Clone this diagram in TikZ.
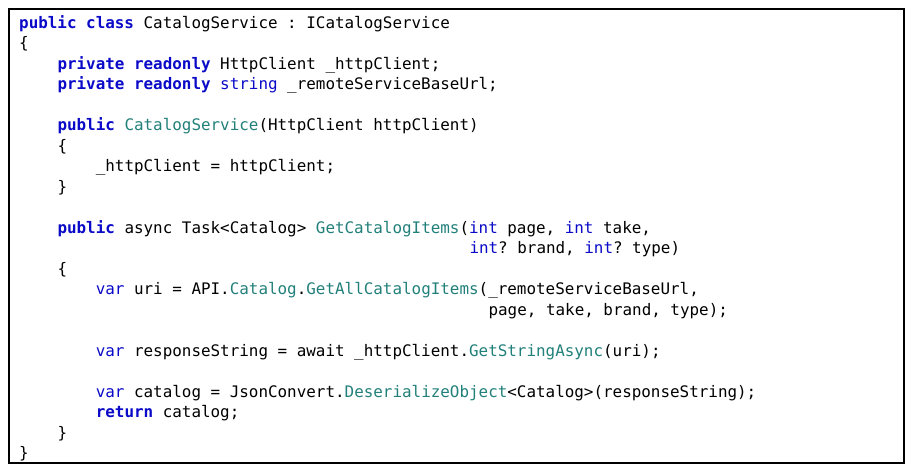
\documentclass[tikz,border=0pt]{standalone}
\usepackage{fontspec}
\usepackage{xcolor}
\usepackage{tikz}
\usetikzlibrary{positioning,calc}
\newfontfamily\codefont{DejaVu Sans Mono}
\definecolor{kwblue}{RGB}{10,10,200}
\definecolor{fnteal}{RGB}{33,128,122}
\newcommand{\kw}[1]{\textcolor{kwblue}{\bfseries #1}}
\newcommand{\ty}[1]{\textcolor{kwblue}{#1}}
\newcommand{\fn}[1]{\textcolor{fnteal}{#1}}
\tikzset{codeline/.style={anchor=base west, inner sep=0pt, font=\codefont\fontsize{15.9}{20.5}\selectfont}}

\begin{document}
\frenchspacing
\begin{tikzpicture}[x=1pt, y=-1pt]
    \useasboundingbox (0,0) rectangle (916,474);
    % Frame
    \draw[line width=2pt] (8.5,8.5) rectangle (904,462.5);

    % Class header
    \node[codeline] (l1) at (19,28) {\kw{public} \kw{class} CatalogService : ICatalogService};
    \node[codeline] (l2) at (19,48.5) {\{};
    \node[codeline] (l3) at (57.3,69) {\kw{private} \kw{readonly} HttpClient \_httpClient;};
    \node[codeline] (l4) at (57.3,89.5) {\kw{private} \kw{readonly} \ty{string} \_remoteServiceBaseUrl;};

    % Constructor
    \node[codeline] (l6) at (57.3,130.5) {\kw{public} \fn{CatalogService}(HttpClient httpClient)};
    \node[codeline] (l7) at (57.3,151) {\{};
    \node[codeline] (l8) at (95.6,171.5) {\_httpClient = httpClient;};
    \node[codeline] (l9) at (57.3,192) {\}};

    % Method
    \node[codeline] (l11) at (57.3,233) {\kw{public} async Task<Catalog> \fn{GetCatalogItems}(\ty{int} page, \ty{int} take,};
    \node[codeline] (l12) at (469.3,253.5) {\ty{int}? brand, \ty{int}? type)};
    \node[codeline] (l13) at (57.3,274) {\{};
    \node[codeline] (l14) at (95.6,294.5) {\ty{var} uri = API.\fn{Catalog}.\fn{GetAllCatalogItems}(\_remoteServiceBaseUrl,};
    \node[codeline] (l15) at (488.4,315) {page, take, brand, type);};
    \node[codeline] (l17) at (95.6,356) {\ty{var} responseString = await \_httpClient.\fn{GetStringAsync}(uri);};
    \node[codeline] (l19) at (95.6,397) {\ty{var} catalog = JsonConvert.\fn{DeserializeObject}<Catalog>(responseString);};
    \node[codeline] (l20) at (95.6,417.5) {\kw{return} catalog;};
    \node[codeline] (l21) at (57.3,438) {\}};
    \node[codeline] (l22) at (19,458.5) {\}};
\end{tikzpicture}
\end{document}
